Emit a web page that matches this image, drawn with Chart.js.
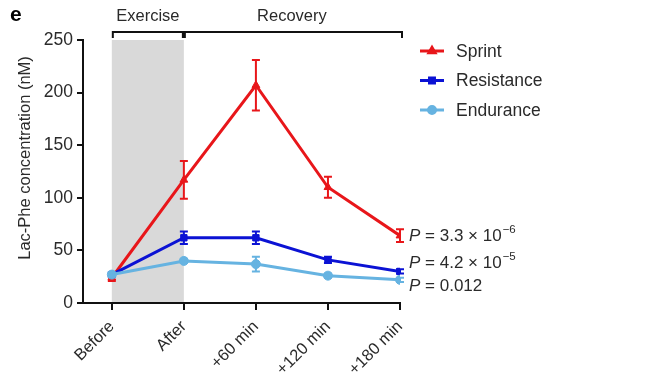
<!DOCTYPE html>
<html>
<head>
<meta charset="utf-8">
<script src="https://cdn.jsdelivr.net/npm/chart.js@4.4.1/dist/chart.umd.min.js"></script>
<style>
  html, body { margin: 0; padding: 0; background: #fff; }
  #wrap { position: relative; width: 658px; height: 377px; }
</style>
</head>
<body>
<div id="wrap"><canvas id="c" width="658" height="377"></canvas></div>
<script>
// time points
var categories = ["Before", "After", "+60 min", "+120 min", "+180 min"];
var yTicks = [0, 50, 100, 150, 200, 250];

// means and SEM (nM)
var sprint = [24, 117, 207, 110, 64];
var sprintErr = [3, 18, 24, 10, 6];
var resistance = [27, 62, 62, 41, 30];
var resistanceErr = [2, 6, 6, 3, 2];
var endurance = [27, 40, 37, 26, 22];
var enduranceErr = [2, 2, 7, 2, 2];

var seriesNames = ["Sprint", "Resistance", "Endurance"];
var pLabels = [["3.3", "−6"], ["4.2", "−5"], ["0.012", null]];

var colors = ["#e8161a", "#0b12d4", "#66b3e1"];
var FONT = "'Liberation Sans', Arial, sans-serif";
var TEXT = "#2a2a2a";

function pts(arr) {
    return arr.map(function(v, i) { return { x: i, y: v }; });
}

var errs = [sprintErr, resistanceErr, enduranceErr];

/** shaded exercise window, brackets, error bars and custom labels */
var decor = {
    id: "decor",
    beforeDatasetsDraw: function(chart) {
        var ctx = chart.ctx, xs = chart.scales.x, ys = chart.scales.y;
        var x0 = xs.getPixelForValue(0), x1 = xs.getPixelForValue(1);
        var yT = ys.getPixelForValue(250), yB = ys.getPixelForValue(0);
        ctx.save();
        ctx.fillStyle = "#d9d9d9";
        ctx.fillRect(x0, yT, x1 - x0, yB - yT - 1);
        ctx.restore();
    },
    afterDatasetDraw: function(chart, args) {
        var i = args.index;
        var ctx = chart.ctx, xs = chart.scales.x, ys = chart.scales.y;
        var data = chart.data.datasets[i].data;
        ctx.save();
        ctx.strokeStyle = colors[i];
        ctx.lineWidth = 2;
        data.forEach(function(p, k) {
            var e = errs[i][k];
            var x = xs.getPixelForValue(p.x);
            var yh = ys.getPixelForValue(p.y + e), yl = ys.getPixelForValue(p.y - e);
            ctx.beginPath();
            ctx.moveTo(x, yh); ctx.lineTo(x, yl);
            ctx.moveTo(x - 4, yh); ctx.lineTo(x + 4, yh);
            ctx.moveTo(x - 4, yl); ctx.lineTo(x + 4, yl);
            ctx.stroke();
        });
        ctx.restore();
    },
    afterDraw: function(chart) {
        var ctx = chart.ctx, xs = chart.scales.x, ys = chart.scales.y;
        ctx.save();
        // panel letter
        ctx.fillStyle = "#000";
        ctx.font = "bold 21px " + FONT;
        ctx.textBaseline = "middle";
        ctx.fillText("e", 10, 15);

        // brackets
        var bx0 = xs.getPixelForValue(0), bx1 = xs.getPixelForValue(1), bx4 = xs.getPixelForValue(4);
        ctx.strokeStyle = "#111";
        ctx.lineWidth = 2;
        ctx.beginPath();
        ctx.moveTo(bx0 + 1, 38); ctx.lineTo(bx0 + 1, 32); ctx.lineTo(bx1 - 1, 32); ctx.lineTo(bx1 - 1, 38);
        ctx.moveTo(bx1 + 1, 38); ctx.lineTo(bx1 + 1, 32); ctx.lineTo(bx4 + 2, 32); ctx.lineTo(bx4 + 2, 38);
        ctx.stroke();
        ctx.fillStyle = TEXT;
        ctx.font = "16.5px " + FONT;
        ctx.textAlign = "center";
        ctx.fillText("Exercise", (bx0 + bx1) / 2, 16);
        ctx.fillText("Recovery", (bx1 + bx4) / 2, 16);

        // y axis title
        ctx.save();
        ctx.translate(25, 158);
        ctx.rotate(-Math.PI / 2);
        ctx.font = "16.5px " + FONT;
        ctx.fillText("Lac-Phe concentration (nM)", 0, 0);
        ctx.restore();

        // legend
        ctx.textAlign = "left";
        ctx.font = "17.5px " + FONT;
        var shapes = ["triangle", "rect", "circle"];
        seriesNames.forEach(function(name, i) {
            var y = 51 + i * 29.5;
            ctx.strokeStyle = colors[i];
            ctx.fillStyle = colors[i];
            ctx.lineWidth = 3;
            ctx.beginPath(); ctx.moveTo(420, y); ctx.lineTo(444, y); ctx.stroke();
            Chart.helpers.drawPoint(ctx, { pointStyle: shapes[i], radius: 3.5, borderWidth: 1 }, 432, y);
            ctx.fillStyle = TEXT;
            ctx.fillText(name, 456, y + 1);
        });

        // P values beside last points
        var pY = [236, 263, 286];
        pLabels.forEach(function(p, i) {
            var x = 409, y = pY[i];
            ctx.fillStyle = TEXT;
            ctx.font = "italic 17px " + FONT;
            ctx.fillText("P", x, y);
            x += ctx.measureText("P").width;
            ctx.font = "17px " + FONT;
            var s = " = " + p[0] + (p[1] ? " × 10" : "");
            ctx.fillText(s, x, y);
            x += ctx.measureText(s).width;
            if (p[1]) {
                ctx.font = "11.5px " + FONT;
                ctx.fillText(p[1], x + 1, y - 6);
            }
        });
        ctx.restore();
    }
};

var datasets = [sprint, resistance, endurance].map(function(arr, i) {
    return {
        label: seriesNames[i],
        data: pts(arr),
        borderColor: colors[i],
        backgroundColor: colors[i],
        borderWidth: 3,
        pointStyle: ["triangle", "rect", "circle"][i],
        pointRadius: 4.5,
        pointBorderWidth: 1,
        tension: 0,
        order: 2 - i
    };
});

new Chart(document.getElementById("c"), {
    type: "line",
    data: { datasets: datasets },
    options: {
        responsive: false,
        animation: false,
        events: [],
        layout: { padding: { left: 0, right: 258, top: 40, bottom: 0 } },
        plugins: { legend: { display: false }, tooltip: { enabled: false } },
        scales: {
            x: {
                type: "linear",
                min: -0.4,
                max: 4,
                afterBuildTicks: function(s) {
                    s.ticks = categories.map(function(c, i) { return { value: i }; });
                },
                afterFit: function(s) { s.height = 74; },
                grid: { drawOnChartArea: false, drawTicks: true, tickLength: 7, color: "#111", lineWidth: 2 },
                border: { color: "#111", width: 2 },
                ticks: {
                    autoSkip: false,
                    maxRotation: 45,
                    minRotation: 45,
                    padding: 7,
                    color: TEXT,
                    font: { family: FONT, size: 16.5 },
                    callback: function(v) { return categories[v]; }
                }
            },
            y: {
                min: 0,
                max: 250,
                afterBuildTicks: function(s) {
                    s.ticks = yTicks.map(function(v) { return { value: v }; });
                },
                afterFit: function(s) { s.width = 83; },
                grid: { drawOnChartArea: false, drawTicks: true, tickLength: 6, color: "#111", lineWidth: 2 },
                border: { color: "#111", width: 2 },
                ticks: {
                    padding: 4,
                    color: TEXT,
                    font: { family: FONT, size: 17.5 }
                }
            }
        }
    },
    plugins: [decor]
});
</script>
</body>
</html>
